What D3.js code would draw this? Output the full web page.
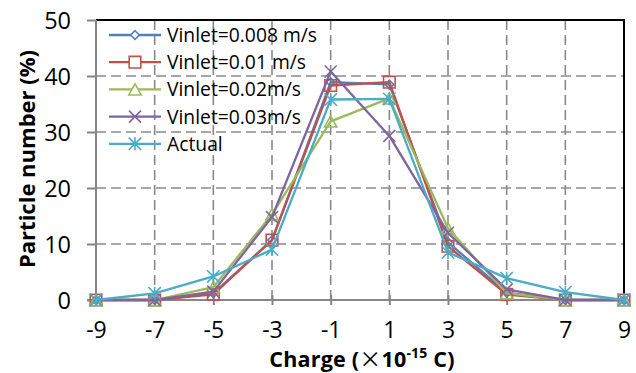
<!DOCTYPE html>
<html>
<head>
<meta charset="utf-8">
<script src="https://cdn.jsdelivr.net/npm/d3@7/dist/d3.min.js"></script>
<style>
  html, body { margin: 0; padding: 0; background: #fff; }
  svg { display: block; }
  text { font-family: "Open Sans", "Noto Sans", sans-serif; fill: #000; }
</style>
</head>
<body>
<svg id="chart" width="636" height="373"></svg>
<script>
// Charge bins (×10^-15 C)
const charges = [-9, -7, -5, -3, -1, 1, 3, 5, 7, 9];

// Particle number share (%) per inlet velocity, plus measured distribution
const vinlet008 = [0, 0, 1.2, 10.7, 38.9, 38.5, 10.3, 1.3, 0, 0];
const vinlet001 = [0, 0, 1.0, 10.7, 38.3, 38.9, 9.6, 1.0, 0, 0];
const vinlet002 = [0, 0, 2.3, 15.3, 31.9, 36.0, 12.8, 1.2, 0, 0];
const vinlet003 = [0, 0, 1.5, 14.8, 40.8, 29.3, 12.0, 1.9, 0, 0];
const actual    = [0, 1.2, 4.2, 9.0, 35.8, 35.9, 8.5, 3.9, 1.4, 0];

const seriesNames = ["Vinlet=0.008 m/s", "Vinlet=0.01 m/s", "Vinlet=0.02m/s", "Vinlet=0.03m/s", "Actual"];
const seriesValues = [vinlet008, vinlet001, vinlet002, vinlet003, actual];
const seriesColors = ["#4F81BD", "#C0504D", "#9BBB59", "#8064A2", "#4BACC6"];

const xTicks = [-9, -7, -5, -3, -1, 1, 3, 5, 7, 9];
const yTicks = [0, 10, 20, 30, 40, 50];

// Stroke-only marker shapes; "size" is the half-width in px
const markerDiamond = { draw(c, r) { c.moveTo(0, -r); c.lineTo(r, 0); c.lineTo(0, r); c.lineTo(-r, 0); c.closePath(); } };
const markerSquare = { draw(c, r) { c.moveTo(-r, -r); c.lineTo(r, -r); c.lineTo(r, r); c.lineTo(-r, r); c.closePath(); } };
const markerTriangle = { draw(c, r) { const h = r * 0.9; c.moveTo(0, -h); c.lineTo(r, h); c.lineTo(-r, h); c.closePath(); } };
const markerX = { draw(c, r) { c.moveTo(-r, -r); c.lineTo(r, r); c.moveTo(-r, r); c.lineTo(r, -r); } };
const markerStar = { draw(c, r) { c.moveTo(-r, -r); c.lineTo(r, r); c.moveTo(-r, r); c.lineTo(r, -r); c.moveTo(0, -r * 1.05); c.lineTo(0, r * 1.05); } };
const seriesMarkers = [[markerDiamond, 4.3], [markerSquare, 5.8], [markerTriangle, 6.2], [markerX, 6], [markerStar, 6.2]];

const svg = d3.select("#chart");
const plotLeft = 96, plotRight = 624, plotTop = 20, plotBottom = 300;

const x = d3.scaleLinear().domain([-9, 9]).range([plotLeft, plotRight]);
const y = d3.scaleLinear().domain([0, 50]).range([plotBottom, plotTop]);

// Dashed gridlines
const grid = svg.append("g").attr("stroke", "#8a8a8a").attr("stroke-width", 1.6).attr("stroke-dasharray", "10,5");
grid.selectAll("line.h").data(yTicks.filter(d => d > 0 && d < 50)).join("line").attr("class", "h")
  .attr("x1", plotLeft).attr("x2", plotRight).attr("y1", d => y(d)).attr("y2", d => y(d));
grid.selectAll("line.v").data(xTicks.filter(d => d > -9 && d < 9)).join("line").attr("class", "v")
  .attr("y1", plotTop).attr("y2", plotBottom).attr("x1", d => x(d)).attr("x2", d => x(d));

// Frame: black top/right edges
svg.append("line").attr("x1", plotLeft).attr("x2", plotRight + 1).attr("y1", plotTop).attr("y2", plotTop).attr("stroke", "#000").attr("stroke-width", 2);
svg.append("line").attr("x1", plotRight).attr("x2", plotRight).attr("y1", plotTop).attr("y2", plotBottom).attr("stroke", "#000").attr("stroke-width", 2);

// Y axis
const yAxis = d3.axisLeft(y).tickValues(yTicks).tickSize(9).tickPadding(0).tickFormat(d3.format("d"));
const gy = svg.append("g").attr("transform", `translate(${plotLeft},0)`).call(yAxis);
gy.select(".domain").remove();
gy.selectAll(".tick line").attr("stroke", "#868686").attr("stroke-width", 2);
gy.selectAll(".tick text").attr("x", -25).attr("dy", "0.36em").style("font-size", "23.5px").style("font-family", "Open Sans");

// X axis (ticks cross the axis line)
const xAxis = d3.axisBottom(x).tickValues(xTicks).tickSize(5).tickFormat(d => d < 0 ? "-" + Math.abs(d) : String(d));
const gx = svg.append("g").attr("transform", `translate(0,${plotBottom})`).call(xAxis);
gx.select(".domain").remove();
gx.selectAll(".tick line").attr("stroke", "#868686").attr("stroke-width", 2).attr("y1", -5);
gx.selectAll(".tick text").attr("y", 37.5).attr("dy", 0).style("font-size", "23px").style("font-family", "Open Sans");

svg.append("line").attr("x1", plotLeft).attr("x2", plotLeft).attr("y1", plotTop).attr("y2", plotBottom + 1).attr("stroke", "#868686").attr("stroke-width", 2);
svg.append("line").attr("x1", plotLeft - 9).attr("x2", plotRight).attr("y1", plotBottom).attr("y2", plotBottom).attr("stroke", "#868686").attr("stroke-width", 2);

// Series lines and markers
const line = d3.line().x((d, i) => x(charges[i])).y(d => y(d));
seriesValues.forEach((vals, si) => {
  const g = svg.append("g");
  g.append("path").datum(vals).attr("d", line).attr("fill", "none")
    .attr("stroke", seriesColors[si]).attr("stroke-width", 2.3).attr("stroke-linejoin", "round");
  const [shape, sz] = seriesMarkers[si];
  g.selectAll("path.m").data(vals).join("path").attr("class", "m")
    .attr("transform", (d, i) => `translate(${x(charges[i])},${y(d)})`)
    .attr("d", d3.symbol(shape, sz)())
    .attr("fill", "none").attr("stroke", seriesColors[si]).attr("stroke-width", 1.6);
});

// Legend
const legend = svg.append("g");
seriesNames.forEach((name, i) => {
  const ly = 35 + i * 27.2;
  legend.append("line").attr("x1", 109).attr("x2", 161).attr("y1", ly).attr("y2", ly)
    .attr("stroke", seriesColors[i]).attr("stroke-width", 2.3);
  const [shape, sz] = seriesMarkers[i];
  legend.append("path").attr("transform", `translate(135,${ly})`).attr("d", d3.symbol(shape, sz)())
    .attr("fill", "#fff").attr("stroke", seriesColors[i]).attr("stroke-width", 1.6);
  legend.append("text").attr("x", 167).attr("y", ly).attr("dy", "0.36em").style("font-size", "19.3px").text(name);
});

// Axis titles
svg.append("text").attr("transform", "translate(35,159) rotate(-90)").attr("text-anchor", "middle")
  .style("font-size", "22px").style("font-weight", "bold").text("Particle number (%)");

const xt = svg.append("text").attr("x", 362).attr("y", 366.5).attr("text-anchor", "middle")
  .style("font-size", "21.5px").style("font-weight", "bold").style("letter-spacing", "0.2px");
xt.append("tspan").text("Charge (");
xt.append("tspan").style("font-family", "Noto Sans CJK SC").style("font-weight", "normal").style("font-size", "22px").text("×");
xt.append("tspan").text("10");
xt.append("tspan").attr("dy", -9).style("font-size", "14px").text("-15");
xt.append("tspan").attr("dy", 9).text(" C)");
</script>
</body>
</html>
